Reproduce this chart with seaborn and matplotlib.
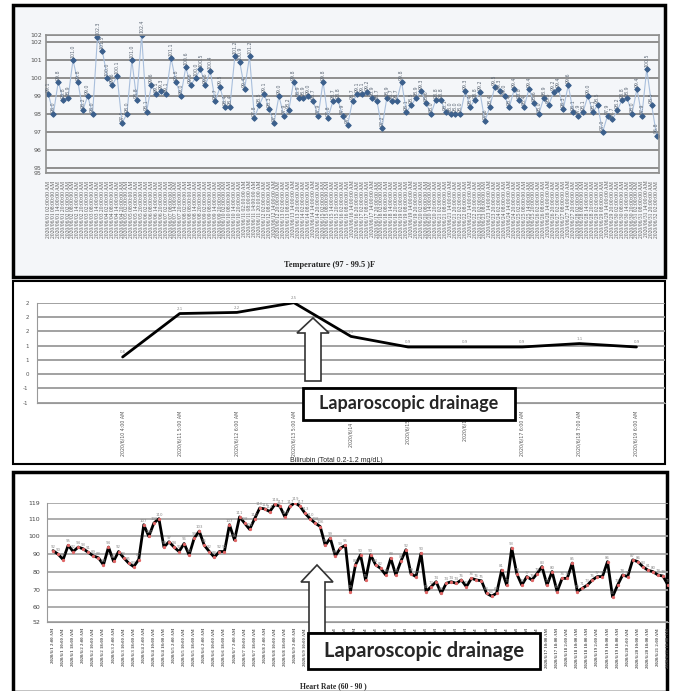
import matplotlib
matplotlib.use("Agg")
import matplotlib.pyplot as plt
import seaborn as sns
from matplotlib.patches import Rectangle, Polygon
from matplotlib.transforms import Affine2D

# ---- data ----
temp = [
    99.1, 98.0, 99.8, 98.8, 98.9, 101.0, 99.8, 98.2, 99.0, 98.0,
    102.3, 101.5, 100.0, 99.6, 100.1, 97.5, 98.0, 101.0, 98.8, 102.4,
    98.1, 99.6, 99.1, 99.3, 99.1, 101.1, 99.8, 99.0, 100.6, 99.6,
    100.0, 100.5, 99.6, 100.4, 98.7, 99.5, 98.4, 98.4, 101.2, 100.9,
    99.4, 101.2, 97.8, 98.5, 99.1, 98.3, 97.5, 99.0, 97.9, 98.2,
    99.8, 98.9, 98.9, 99.0, 98.7, 97.9, 99.8, 97.8, 98.7, 98.8,
    97.9, 97.4,
    98.7, 99.1, 99.1, 99.2, 98.9, 98.7, 97.2, 98.9, 98.7, 98.7,
    99.8, 98.1, 98.5, 98.9, 99.3, 98.6, 98.0, 98.8, 98.8, 98.1,
    98.0, 98.0, 98.0, 99.3, 98.4, 98.8, 99.2, 97.6, 98.4, 99.5,
    99.3, 99.0, 98.4, 99.4, 98.8, 98.4, 99.4, 98.6, 98.0, 98.9,
    98.5, 99.2, 99.4, 98.3, 99.6, 98.1, 97.9, 98.1, 99.0, 98.1,
    98.5, 97.0, 97.9, 97.7, 98.2, 98.8, 98.9, 98.0, 99.4, 97.9,
    100.5, 98.5, 96.8,
]
temp_times = [f"2020/06/{1 + i // 4:02d} {['02', '08', '14', '20'][i % 4]}:00:00 AM"
              for i in range(len(temp))]
temp_yticks = [94.72, 95, 96, 97, 98, 99, 100, 101, 102, 102.39]
temp_yticklabels = ["95", "95", "96", "97", "98", "99", "100", "101", "102", "102"]

bili = [None, 0.6, 2.12, 2.16, 2.5, 1.32, 0.95, 0.95, 0.95, 1.07, 0.95]
bili_dates = ["", "2020/6/10 4:00 AM", "2020/6/11 5:00 AM", "2020/6/12 6:00 AM",
              "2020/6/13 5:00 AM", "2020/6/14 4:00", "2020/6/15 11:", "2020/6/16 8:",
              "2020/6/17 6:00 AM", "2020/6/18 7:00 AM", "2020/6/19 6:00 AM"]
bili_yticks = [-1, -0.5, 0, 0.5, 1, 1.5, 2, 2.5]
bili_yticklabels = ["-1", "-1", "0", "1", "1", "2", "2", "2"]

hr = [
    92, 90, 87, 95, 91.5, 94, 93, 91, 89, 88,
    84, 94, 86, 91.5, 88, 85, 83, 87, 106.6, 100,
    107.5, 110, 94, 97, 94, 91.5, 96, 89.6, 99, 103,
    95, 91.5, 88.3, 91.5, 91.5, 106.6, 98, 111, 107.5, 104,
    110, 116, 115.5, 114, 118, 117, 111, 117, 119, 117,
    113, 110, 107.5, 105.6, 95, 99, 89, 93.4, 95,
    69, 84, 89.6, 75.5, 89.6, 84, 82, 78.3, 87.7, 78.3,
    86, 92.5, 79, 77.4, 90.5, 69, 71.7, 74.5, 68, 73.6,
    74.5, 73.6, 75.5, 71.7, 76.4, 75.5, 75, 68, 66.4, 68,
    81, 72.6, 93.4, 79, 72.6, 77.4, 75.5, 79, 83, 72.6,
    80.2, 69, 76.4, 76.4, 85, 69, 70.8, 72.6, 75.5, 77.4,
    77.4, 85.8, 66, 72.6, 78.3, 77.4, 86.8, 85.8, 83, 81,
    80.2, 78.3, 77.7, 72.6,
]
hr_times = [f"2020/6/{1 + i // 6} {(i % 6) * 4 + 2}:00 AM" for i in range(len(hr))]
hr_yticks = [52, 60, 70, 80, 90, 100, 110, 119]

# ---- figure in pixel units ----
W, H = 673, 691
sns.set_style("white")
plt.rcParams["font.family"] = ["DejaVu Sans"]
fig = plt.figure(figsize=(W / 100, H / 100), dpi=100)
pix = Affine2D().scale(1 / W, -1 / H).translate(0, 1) + fig.transFigure


def axes_px(l, t, r, b):
    ax = fig.add_axes([l / W, 1 - b / H, (r - l) / W, (b - t) / H])
    ax.set_zorder(1)
    ax.patch.set_alpha(0)
    return ax


def frame(l, t, r, b, face, lw):
    fig.patches.append(Rectangle((l, t), r - l, b - t, transform=pix, facecolor=face,
                                 edgecolor="black", linewidth=lw, zorder=-5))


def up_arrow(x, tip, base, bottom, half_head=16, half_shaft=8):
    pts = [(x, tip), (x + half_head, base), (x + half_shaft, base), (x + half_shaft, bottom),
           (x - half_shaft, bottom), (x - half_shaft, base), (x - half_head, base)]
    fig.patches.append(Polygon(pts, closed=True, transform=pix, facecolor="white",
                               edgecolor="#333333", linewidth=1.2, zorder=5))


def label_box(l, t, r, b, size):
    fig.patches.append(Rectangle((l, t), r - l, b - t, transform=pix, facecolor="white",
                                 edgecolor="black", linewidth=2, zorder=5))
    fig.text(((l + r) / 2) / W, 1 - ((t + b) / 2) / H, "Laparoscopic drainage",
             ha="center", va="center", fontsize=size, fontweight="bold",
             family=["Lato", "DejaVu Sans"], zorder=6)


frame(13, 5, 665, 277, "#f4f6f9", 2.5)
frame(13, 281, 665, 464, "white", 1.5)
frame(13, 472, 667, 692, "white", 2.5)

# ---- Panel 1: temperature ----
ax1 = axes_px(46, 35, 659, 173)
sns.lineplot(x=list(range(len(temp))), y=temp, ax=ax1, color="#a9bfdc", linewidth=0.8,
             marker="D", markersize=2.8, markerfacecolor="#3b5f8c", markeredgecolor="#3b5f8c")
for i, v in enumerate(temp):
    ax1.annotate(f"{v:.1f}", (i, v), xytext=(0, 1.5), textcoords="offset points",
                 rotation=90, ha="center", va="bottom", fontsize=3.4, color="#5f6a78")
ax1.set_xlim(-0.5, len(temp) - 0.5)
ax1.set_ylim(temp_yticks[0], temp_yticks[-1])
ax1.set_yticks(temp_yticks)
ax1.set_yticklabels(temp_yticklabels, fontsize=4.5, color="#555555")
ax1.yaxis.grid(True, color="#8f8f8f", linewidth=1.4)
ax1.set_axisbelow(True)
ax1.set_xticks(range(len(temp)))
ax1.set_xticklabels(temp_times, rotation=90, fontsize=4.0, color="#555555",
                    family=["Liberation Serif"])
ax1.tick_params(axis="x", direction="inout", length=3, width=0.6, color="#555555", pad=4)
ax1.tick_params(axis="y", length=0, pad=3)
for s in ax1.spines.values():
    s.set_color("#8f8f8f")
    s.set_linewidth(1.2)
ax1.set_xlabel("")
ax1.set_ylabel("")
fig.text(330 / W, 1 - 265 / H, "Temperature (97 - 99.5 )F", ha="center", va="center",
         fontsize=6, fontweight="bold", family=["Liberation Serif"])

# ---- Panel 2: bilirubin ----
ax2 = axes_px(37, 302.7, 665, 402.7)
bx = [i for i, v in enumerate(bili) if v is not None]
by = [v for v in bili if v is not None]
sns.lineplot(x=bx, y=by, ax=ax2, color="black", linewidth=2)
for i, v in zip(bx, by):
    ax2.annotate(f"{v:.1f}", (i, v), xytext=(0, 2), textcoords="offset points",
                 ha="center", va="bottom", fontsize=2.8, color="#888888")
ax2.set_xlim(-0.5, len(bili) - 0.5)
ax2.set_ylim(-1, 2.5)
ax2.set_yticks(bili_yticks)
ax2.set_yticklabels(bili_yticklabels, fontsize=4, color="#555555")
ax2.yaxis.grid(True, color="#9a9a9a", linewidth=1.3)
ax2.set_axisbelow(True)
ax2.set_xticks(range(len(bili)))
ax2.set_xticklabels(bili_dates, rotation=90, fontsize=3.4, color="#555555")
ax2.tick_params(axis="x", direction="inout", length=3, width=0.8, color="#666666", pad=4)
ax2.tick_params(axis="y", length=0, pad=6)
ax2.spines["top"].set_visible(False)
ax2.spines["right"].set_visible(False)
ax2.spines["left"].set_color("#999999")
ax2.spines["bottom"].set_color("#999999")
ax2.set_xlabel("")
ax2.set_ylabel("")
fig.text(336 / W, 1 - 461 / H, "Bilirubin (Total 0.2-1.2 mg/dL)", ha="center", va="center",
         fontsize=5, family=["Liberation Sans"])
up_arrow(313, 318, 333, 381)
label_box(303, 388, 515, 420, 13)

# ---- Panel 3: heart rate ----
ax3 = axes_px(47, 502.7, 668, 621.7)
sns.lineplot(x=list(range(len(hr))), y=hr, ax=ax3, color="black", linewidth=2,
             marker="o", markersize=1.6, markerfacecolor="#e06666", markeredgecolor="#e06666")
for i, v in enumerate(hr):
    ax3.annotate(f"{v:.0f}", (i, v), xytext=(0, 1.5), textcoords="offset points",
                 ha="center", va="bottom", fontsize=2.8, color="#8a8a8a")
ax3.set_xlim(-1.2, len(hr) - 1)
ax3.set_ylim(52, 119)
ax3.set_yticks(hr_yticks)
ax3.set_yticklabels([str(t) for t in hr_yticks], fontsize=4.5, color="#444444")
ax3.yaxis.grid(True, color="#a0a0a0", linewidth=1.2)
ax3.set_axisbelow(True)
ax3.set_xticks(range(0, len(hr), 2))
ax3.set_xticklabels(hr_times[::2], rotation=90, fontsize=3.4, color="#555555",
                    family=["Liberation Serif"], fontweight="bold")
ax3.tick_params(axis="x", direction="inout", length=3, width=0.8, color="#666666", pad=3)
ax3.tick_params(axis="y", length=0, pad=5)
ax3.spines["top"].set_visible(False)
ax3.spines["right"].set_visible(False)
ax3.spines["left"].set_color("#999999")
ax3.spines["bottom"].set_color("#999999")
ax3.set_xlabel("")
ax3.set_ylabel("")
fig.text(333 / W, 1 - 686 / H, "Heart Rate (60 - 90 )", ha="center", va="center",
         fontsize=5.5, fontweight="bold", family=["Liberation Serif"])
up_arrow(317, 565, 582, 633)
label_box(308, 633, 540, 669, 14.5)

fig.savefig("out.png", dpi=100)
